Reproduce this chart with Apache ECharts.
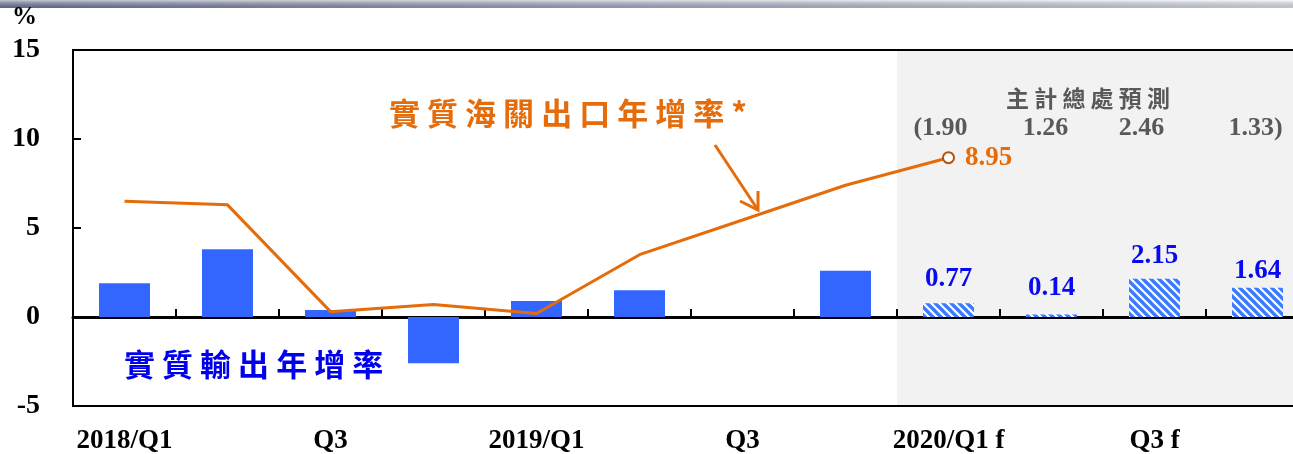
<!DOCTYPE html>
<html>
<head>
<meta charset="utf-8">
<script src="https://cdn.jsdelivr.net/npm/echarts@6/dist/echarts.min.js"></script>
<style>
html,body{margin:0;padding:0;background:#fff;}
#chart{width:1293px;height:454px;}
</style>
</head>
<body>
<div id="chart"></div>
<script>
// ---- data ----
const categories = ['2018/Q1','Q2','Q3','Q4','2019/Q1','Q2','Q3','Q4','2020/Q1 f','Q2 f','Q3 f','Q4 f'];
const realExportGrowth = [1.9, 3.8, 0.4, -2.6, 0.9, 1.5, 0, 2.6, 0.77, 0.14, 2.15, 1.64];
const customsExportGrowth = [6.5, 6.3, 0.3, 0.7, 0.2, 3.5, 5.45, 7.4, 8.95, null, null, null];
const forecastStartIndex = 8;
const dgbasForecast = [1.90, 1.26, 2.46, 1.33];
const yMin = -5, yMax = 15, yInterval = 5;
const lineTitle = '實質海關出口年增率*';
const barTitle = '實質輸出年增率';
const forecastTitle = '主計總處預測';

// ---- styles ----
const ORANGE = '#E46C0A';
const BLUE = '#3366FF';
const LABEL_BLUE = '#0A0AF0';
const GREY_TEXT = '#595959';
const SERIF = '"Liberation Serif", "Times New Roman", serif';
const CJK = '"Noto Sans CJK TC", sans-serif';
const forecastLabelGap = [11, 13, 9, 3];

function hatchPattern() {
  const c = document.createElement('canvas');
  c.width = 8; c.height = 8;
  const g = c.getContext('2d');
  g.fillStyle = '#ffffff';
  g.fillRect(0, 0, 8, 8);
  g.strokeStyle = '#3A7AFF';
  g.lineWidth = 3.4;
  for (let k = -16; k <= 16; k += 8) {
    g.beginPath();
    g.moveTo(-2, k - 2);
    g.lineTo(10, k + 10);
    g.stroke();
  }
  return c;
}
const hatch = hatchPattern();

const barData = realExportGrowth.map((v, i) => {
  if (i >= forecastStartIndex) {
    return {
      value: v,
      itemStyle: { color: { image: hatch, repeat: 'repeat' } },
      label: {
        show: true, position: 'top', distance: forecastLabelGap[i - forecastStartIndex],
        formatter: (p) => p.value.toFixed(2),
        color: LABEL_BLUE, fontFamily: SERIF, fontWeight: 'bold', fontSize: 27
      }
    };
  }
  return { value: v };
});

const lastLineIdx = customsExportGrowth.reduce((acc, v, i) => (v !== null ? i : acc), -1);
const lineData = customsExportGrowth.map((v, i) => {
  if (i === lastLineIdx) {
    return {
      value: v,
      symbol: 'circle', symbolSize: 11,
      itemStyle: { color: '#ffffff', borderColor: '#B5520C', borderWidth: 2 },
      label: {
        show: true, position: 'right', distance: 10,
        formatter: (p) => p.value.toFixed(2),
        color: ORANGE, fontFamily: SERIF, fontWeight: 'bold', fontSize: 27
      }
    };
  }
  return { value: v, symbol: 'none' };
});

const chart = echarts.init(document.getElementById('chart'), null, { renderer: 'canvas' });

const option = {
  animation: false,
  backgroundColor: '#ffffff',
  grid: {
    left: 73, top: 50, bottom: 48, width: 1236,
    outerBoundsMode: 'none', containLabel: false,
    show: true, borderColor: '#000', borderWidth: 2, backgroundColor: 'transparent'
  },
  xAxis: [
    {
      type: 'category', data: categories, position: 'bottom',
      axisLine: { onZero: true, lineStyle: { color: '#000', width: 3 } },
      axisTick: { show: true, inside: true, length: 8, interval: 0, lineStyle: { color: '#000', width: 2 } },
      axisLabel: { show: false },
      splitLine: { show: false }
    },
    {
      type: 'category', data: categories, position: 'bottom',
      axisLine: { onZero: false, show: true, lineStyle: { color: '#000', width: 2 } },
      axisTick: { show: false },
      axisLabel: {
        show: true, interval: 1, margin: 22,
        color: '#000', fontFamily: SERIF, fontWeight: 'bold', fontSize: 27
      },
      splitLine: { show: false }
    }
  ],
  yAxis: {
    type: 'value', min: yMin, max: yMax, interval: yInterval,
    axisLine: { show: true, onZero: false, lineStyle: { color: '#000', width: 2 } },
    axisTick: { show: true, inside: true, length: 8, lineStyle: { color: '#000', width: 2 } },
    axisLabel: { color: '#000', fontFamily: SERIF, fontWeight: 'bold', fontSize: 28, margin: 33 },
    splitLine: { show: false }
  },
  series: [
    {
      type: 'bar', data: barData, xAxisIndex: 0, barWidth: 51,
      itemStyle: { color: BLUE }, z: 2
    },
    {
      type: 'line', data: lineData, xAxisIndex: 0,
      lineStyle: { color: ORANGE, width: 3 },
      itemStyle: { color: ORANGE },
      connectNulls: false, z: 3
    }
  ]
};
chart.setOption(option);

// ---- annotations positioned from the axes ----
const px = (i) => chart.convertToPixel({ xAxisIndex: 0 }, i);
const band = px(1) - px(0);
const shadeLeft = px(forecastStartIndex) - band / 2;
const yTop = chart.convertToPixel({ yAxisIndex: 0 }, yMax);
const yBottom = chart.convertToPixel({ yAxisIndex: 0 }, yMin);

const spaced = (s) => s.split('').join(' ');

const graphics = [
  {
    type: 'rect', z: -100, silent: true,
    shape: { x: 0, y: 0, width: 1293, height: 8 },
    style: {
      fill: new echarts.graphic.LinearGradient(0, 0, 1, 0, [
        { offset: 0, color: '#6E7690' },
        { offset: 0.5, color: '#B4B8C6' },
        { offset: 1, color: '#F2F3F5' }
      ])
    }
  },
  {
    type: 'rect', z: -99, silent: true,
    shape: { x: 0, y: 0, width: 1293, height: 8 },
    style: {
      fill: new echarts.graphic.LinearGradient(0, 0, 0, 1, [
        { offset: 0, color: 'rgba(255,255,255,0.6)' },
        { offset: 1, color: 'rgba(40,50,80,0.25)' }
      ])
    }
  },
  {
    type: 'rect', z: -100, silent: true,
    shape: { x: shadeLeft, y: yTop, width: 1293 - shadeLeft, height: yBottom - yTop },
    style: { fill: '#F2F2F2' }
  },
  {
    type: 'text', left: 12, top: 5,
    style: { text: '%', fill: '#000', font: 'bold 25px ' + SERIF }
  },
  {
    type: 'text', x: 389, y: 113,
    style: { text: spaced(lineTitle), fill: ORANGE, font: 'bold 31px ' + CJK, textVerticalAlign: 'middle' }
  },
  {
    type: 'text', x: 124, y: 364,
    style: { text: spaced(barTitle), fill: '#0000EE', font: 'bold 31px ' + CJK, textVerticalAlign: 'middle' }
  },
  {
    type: 'text', x: 1088, y: 98,
    style: { text: spaced(forecastTitle), fill: GREY_TEXT, font: 'bold 23px ' + CJK, textAlign: 'center', textVerticalAlign: 'middle' }
  },
  {
    type: 'polyline', silent: true,
    shape: { points: [[715, 145], [758, 210]] },
    style: { stroke: ORANGE, lineWidth: 3, fill: null }
  },
  {
    type: 'polyline', silent: true,
    shape: { points: [[740, 201], [758, 210], [758, 191]] },
    style: { stroke: ORANGE, lineWidth: 3, fill: null, lineJoin: 'miter' }
  }
];

const forecastNudge = [-8, -6, -13, -2];
dgbasForecast.forEach((v, i) => {
  let t = v.toFixed(2);
  if (i === 0) t = '(' + t;
  if (i === dgbasForecast.length - 1) t = t + ')';
  const anchorX = px(forecastStartIndex + i);
  graphics.push({
    type: 'text', x: anchorX + forecastNudge[i], y: 128,
    style: { text: t, fill: GREY_TEXT, font: 'bold 26px ' + SERIF, textAlign: 'center', textVerticalAlign: 'middle' }
  });
});

chart.setOption({ graphic: { elements: graphics } });
</script>
</body>
</html>
